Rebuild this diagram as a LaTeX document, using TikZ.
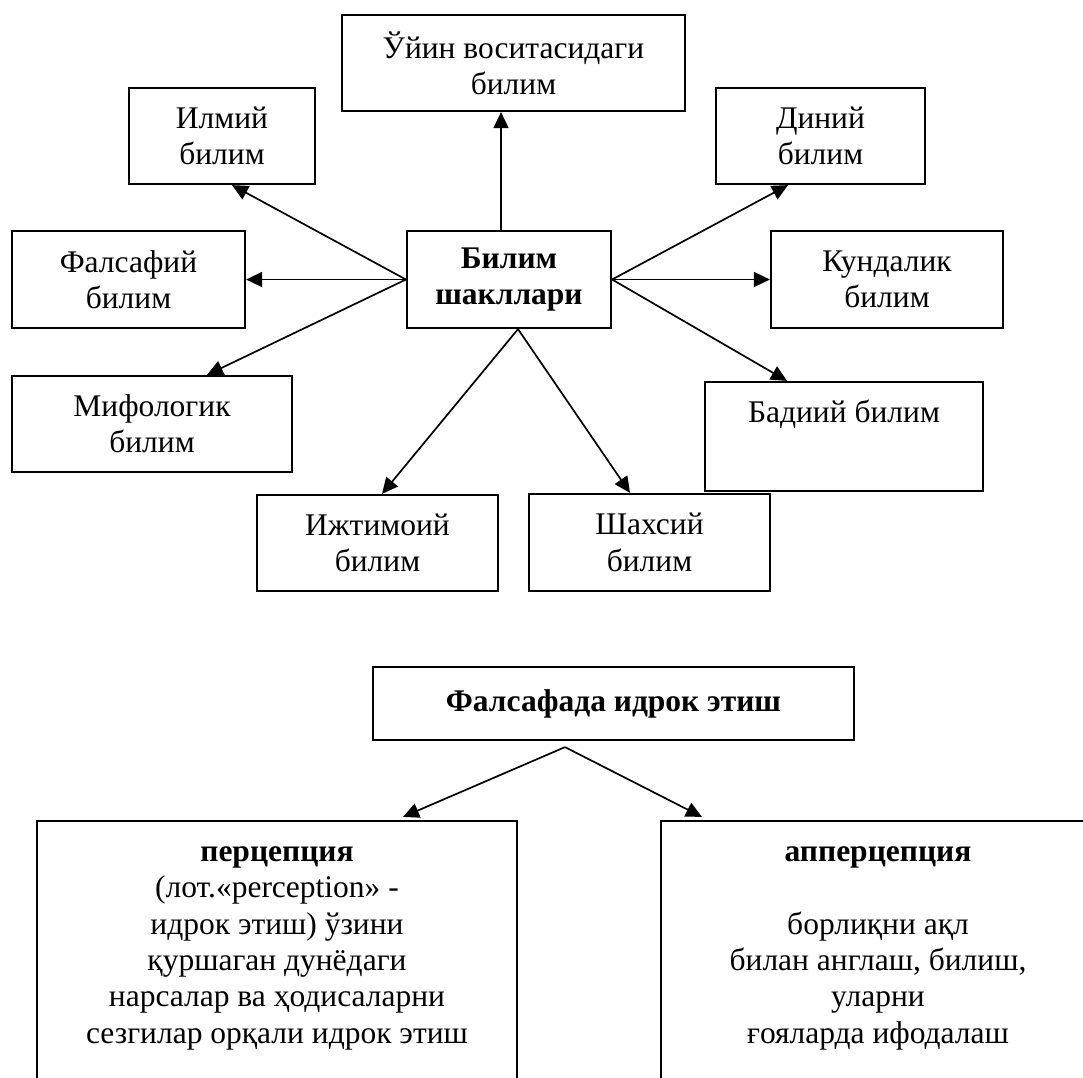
\documentclass[tikz,border=0pt]{standalone}
\usepackage{fontspec}
\setmainfont{Liberation Serif}
\usetikzlibrary{arrows.meta}
\begin{document}
\begin{tikzpicture}[x=1pt,y=-1pt,
  txt/.style={inner sep=0pt, align=center, font=\fontsize{31.5}{36.4}\selectfont},
  box/.style={txt, draw, line width=2.2pt},
  arr/.style={line width=1.7pt, -{Triangle[length=16pt,width=15pt]}}]
\useasboundingbox (0,0) rectangle (1083,1077);
\clip (0,0) rectangle (1083,1077);
% upper diagram
\node[box, minimum width=343pt, minimum height=96pt] (uyin) at (513.5,63) {Ўйин воситасидаги\\билим};
\node[box, minimum width=186pt, minimum height=96pt] (ilmiy) at (222,136) {Илмий\\билим};
\node[box, minimum width=209pt, minimum height=96pt] (diniy) at (820.5,136) {Диний\\билим};
\node[box, minimum width=233pt, minimum height=97pt] (falsafiy) at (128.5,279.5) {Фалсафий\\билим};
\node[box, minimum width=204pt, minimum height=97pt, font=\fontsize{31.5}{36.4}\selectfont\bfseries] (bilim) at (509,279.5) {Билим\\шакллари};
\node[box, minimum width=232pt, minimum height=97pt] (kundalik) at (887,279.5) {Кундалик\\билим};
\node[box, minimum width=280pt, minimum height=96pt] (mifologik) at (152,424) {Мифологик\\билим};
\node[box, minimum width=278pt, minimum height=109pt] (badiiy) at (844,436.5) {};
\node[txt, anchor=base] (badiiytxt) at (844,422) {Бадиий билим};
\node[box, minimum width=241pt, minimum height=96pt] (ijtimoiy) at (377.5,543) {Ижтимоий\\билим};
\node[box, minimum width=241pt, minimum height=97pt] (shaxsiy) at (649.5,542.5) {Шахсий\\билим};
% arrows
\draw[arr] ([xshift=-8pt]bilim.north) -- ([xshift=-8pt]bilim.north |- uyin.south);
\draw[arr] (bilim.west) -- ([xshift=10pt]ilmiy.south);
\draw[arr] (bilim.west) -- (falsafiy.east);
\draw[arr] (bilim.west) -- ([xshift=55pt]mifologik.north);
\draw[arr] (bilim.east) -- ([xshift=-32.5pt]diniy.south);
\draw[arr] (bilim.east) -- (kundalik.west);
\draw[arr] (bilim.east) -- ([xshift=-57pt]badiiy.north);
\draw[arr] ([xshift=9pt]bilim.south) -- ([xshift=4.5pt]ijtimoiy.north);
\draw[arr] ([xshift=9pt]bilim.south) -- ([xshift=-19.5pt]shaxsiy.north);
% lower diagram
\node[box, minimum width=481pt, minimum height=73pt, font=\fontsize{31.5}{36.4}\selectfont\bfseries] (falsafada) at (613.5,703.5) {Фалсафада идрок этиш};
\node[box, minimum width=480pt, minimum height=279pt] (perc) at (277,960.5) {};
\node[box, minimum width=439pt, minimum height=279pt] (apperc) at (880.5,960.5) {};
\node[txt, anchor=north] (perctxt) at (277,835.5) {\strut\textbf{перцепция}\\(лот.«perception» -\\идрок этиш) ўзини\\қуршаган дунёдаги\\нарсалар ва ҳодисаларни\\сезгилар орқали идрок этиш};
\node[txt, anchor=north] (apperctxt) at (878,835.5) {\strut\textbf{апперцепция}\\\mbox{}\\борлиқни ақл\\билан англаш, билиш,\\уларни\\ғояларда ифодалаш};
\coordinate (apex) at ([xshift=-48.5pt,yshift=-6pt]falsafada.south);
\draw[arr] (apex) -- ([xshift=126pt,yshift=3pt]perc.north);
\draw[arr] (apex) -- ([xshift=-178.5pt,yshift=3pt]apperc.north);
\end{tikzpicture}
\end{document}
